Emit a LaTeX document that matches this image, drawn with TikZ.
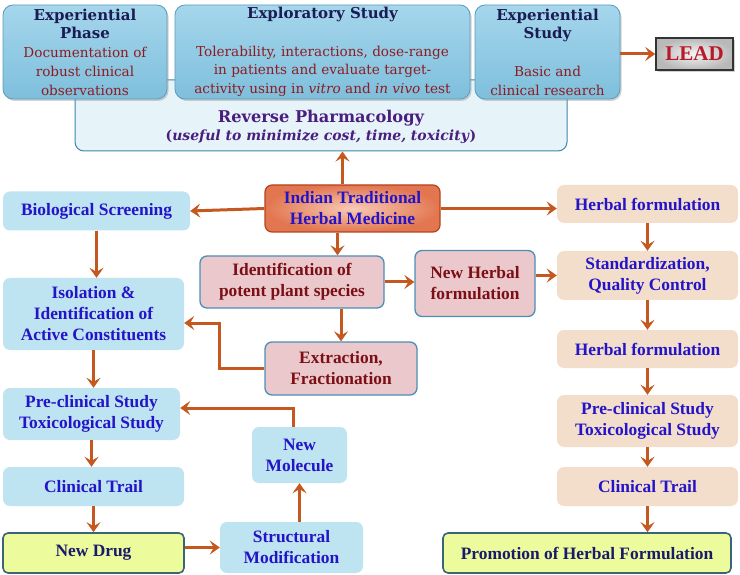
\documentclass[tikz,border=0pt]{standalone}
\usepackage{fontspec}
\setmainfont{Liberation Serif}
\newfontfamily\schfont{DejaVu Serif}
\usetikzlibrary{arrows.meta,positioning,shadows}
\tikzset{every shadow/.style={fill=black!40,opacity=0.45,shadow xshift=1.5pt,shadow yshift=-2pt}}
\definecolor{flowc}{HTML}{C4581E}
\definecolor{topA}{HTML}{A5D6EC}
\definecolor{topB}{HTML}{7EBFDC}
\definecolor{topline}{HTML}{5C9CBA}
\definecolor{ttlc}{HTML}{1C1C55}
\definecolor{bodyc}{HTML}{8E1B22}
\definecolor{revfill}{HTML}{E6F4FA}
\definecolor{revline}{HTML}{3E86AA}
\definecolor{revtext}{HTML}{4A1E7E}
\definecolor{bluefill}{HTML}{BEE3F1}
\definecolor{bluetext}{HTML}{2414C8}
\definecolor{pinkfill}{HTML}{EBC8CC}
\definecolor{pinkline}{HTML}{4C8FB6}
\definecolor{redtext}{HTML}{7A1016}
\definecolor{beigefill}{HTML}{F3DECB}
\definecolor{lemonfill}{HTML}{ECFB9C}
\definecolor{lemonline}{HTML}{3A6478}
\definecolor{navytext}{HTML}{1A1A6A}
\definecolor{leadtext}{HTML}{B81A2A}
\definecolor{indA}{HTML}{F8CBB5}
\definecolor{indB}{HTML}{E27650}
\definecolor{indline}{HTML}{B5431C}
\newcommand{\ttl}[1]{\textcolor{ttlc}{\bfseries\fontsize{15}{18.75}\selectfont #1}}
\tikzset{
  box/.style={rounded corners=7pt,align=center,inner sep=2pt,font=\bfseries\fontsize{17.4}{21}\selectfont},
  bluebox/.style={box,fill=bluefill,text=bluetext},
  beigebox/.style={box,fill=beigefill,text=bluetext},
  pinkbox/.style={box,fill=pinkfill,draw=pinkline,line width=1.3pt,text=redtext},
  lemonbox/.style={box,rounded corners=5pt,fill=lemonfill,draw=lemonline,line width=1.6pt,text=navytext},
  indbox/.style={box,inner color=indA,outer color=indB,draw=indline,line width=1.2pt,text=bluetext},
  topbox/.style={rounded corners=10pt,draw=topline,line width=0.8pt,top color=topA,bottom color=topB,drop shadow,
    align=center,inner sep=2pt,text=bodyc,font=\schfont\fontsize{13.6}{18.75}\selectfont},
  revbox/.style={rounded corners=9pt,fill=revfill,draw=revline,line width=1pt,align=center,text=revtext,
    font=\schfont\bfseries\fontsize{16.2}{18}\selectfont},
  leadbox/.style={draw=black!80,line width=1.5pt,inner color=gray!8,outer color=gray!55,
    drop shadow,text=leadtext,font=\bfseries\fontsize{21}{24}\selectfont},
  flow/.style={-{Stealth[length=10pt,width=14pt,inset=4pt]},line width=3pt,draw=flowc},
}
\begin{document}
\begin{tikzpicture}[x=1pt,y=-1pt]
\useasboundingbox (0,0) rectangle (740,575);
% top row: reverse pharmacology behind the three phases
\node (rev) [revbox,minimum width=492,minimum height=71] at (321,115.5)
  {\mbox{}\\[17pt]Reverse Pharmacology\\{\fontsize{14}{18}\selectfont(\textit{useful to minimize cost, time, toxicity})}};
\node (exph) [topbox,minimum width=164,minimum height=94] at (85,52)
  {\ttl{Experiential}\\\ttl{Phase}\\Documentation of\\robust clinical\\observations};
\node (expl) [topbox,minimum width=295,minimum height=94] at (322.5,52)
  {\ttl{Exploratory Study}\\[18.75pt]Tolerability, interactions, dose-range\\in patients and evaluate target-\\activity using in \textit{vitro} and \textit{in vivo} test};
\node (exps) [topbox,minimum width=145,minimum height=94] at (547.5,52)
  {\ttl{Experiential}\\\ttl{Study}\\[18.75pt]Basic and\\clinical research};
\node (lead) [leadbox,minimum width=77,minimum height=32] at (694.5,54) {LEAD};
%
\node (ind) [indbox,minimum width=175,minimum height=47] at (352.5,208.5) {Indian Traditional\\Herbal Medicine};
\node (bio) [bluebox,minimum width=187,minimum height=39] at (96.5,211) {Biological Screening};
\node (herb1) [beigebox,minimum width=181,minimum height=38] at (647.5,204) {Herbal formulation};
\node (iden) [pinkbox,minimum width=184,minimum height=52] at (292,282) {Identification of\\potent plant species};
\node (newh) [pinkbox,minimum width=120,minimum height=66] at (475,283.5) {New Herbal\\formulation};
\node (ext) [pinkbox,minimum width=152,minimum height=53] at (341,368.5) {Extraction,\\Fractionation};
% right column
\node (std) [beigebox,minimum width=181,minimum height=49] at (647.5,275.5) {Standardization,\\Quality Control};
\node (herb2) [beigebox,minimum width=181,minimum height=38] at (647.5,349) {Herbal formulation};
\node (prer) [beigebox,minimum width=181,minimum height=52] at (647.5,421) {Pre-clinical Study\\Toxicological Study};
\node (clinr) [beigebox,minimum width=181,minimum height=39] at (647.5,486.5) {Clinical Trail};
\node (promo) [lemonbox,minimum width=288,minimum height=40] at (587,553) {Promotion of Herbal Formulation};
% left column
\node (iso) [bluebox,minimum width=181,minimum height=72] at (93.5,314) {Isolation \&\\Identification of\\Active Constituents};
\node (prel) [bluebox,minimum width=177,minimum height=52] at (91.5,414) {Pre-clinical Study\\Toxicological Study};
\node (clinl) [bluebox,minimum width=181,minimum height=39] at (93.5,486.5) {Clinical Trail};
\node (drug) [lemonbox,minimum width=181,minimum height=40] at (93.5,553) {New Drug};
\node (struct) [bluebox,minimum width=143,minimum height=51] at (291.5,547.5) {Structural\\Modification};
\node (mol) [bluebox,minimum width=95,minimum height=56] at (299.5,455) {New\\Molecule};
%
\draw[flow] (exps.east |- lead.west) -- (lead.west);
\draw[flow] ([xshift=-10pt]ind.north) -- ([xshift=-10pt]ind.north |- rev.south);
\draw[flow] (ind.west) -- (bio.east);
\draw[flow] (ind.east) -- (herb1.west |- ind.east);
\draw[flow] ([xshift=-15pt]ind.south) -- ([xshift=-15pt]ind.south |- iden.north);
\draw[flow] (iden.east) -- (newh.west |- iden.east);
\draw[flow] (newh.east |- std.west) -- (std.west);
\draw[flow] (ext.north |- iden.south) -- (ext.north);
\draw[flow] (ext.west) -- ++(-45,0) |- ([yshift=-9pt]iso.east);
%
\draw[flow] (herb1.south) -- (std.north);
\draw[flow] (std.south) -- (herb2.north);
\draw[flow] (herb2.south) -- (prer.north);
\draw[flow] (prer.south) -- (clinr.north);
\draw[flow] (clinr.south) -- (promo.north -| clinr.south);
%
\draw[flow] (bio.south) -- (bio.south |- iso.north);
\draw[flow] (iso.south) -- (iso.south |- prel.north);
\draw[flow] (prel.south) -- (prel.south |- clinl.north);
\draw[flow] (clinl.south) -- (drug.north);
\draw[flow] (drug.east |- struct.west) -- (struct.west);
\draw[flow] (mol.south |- struct.north) -- (mol.south);
\draw[flow] ([xshift=-6pt]mol.north) |- ([yshift=6pt]prel.east);
\end{tikzpicture}
\end{document}
